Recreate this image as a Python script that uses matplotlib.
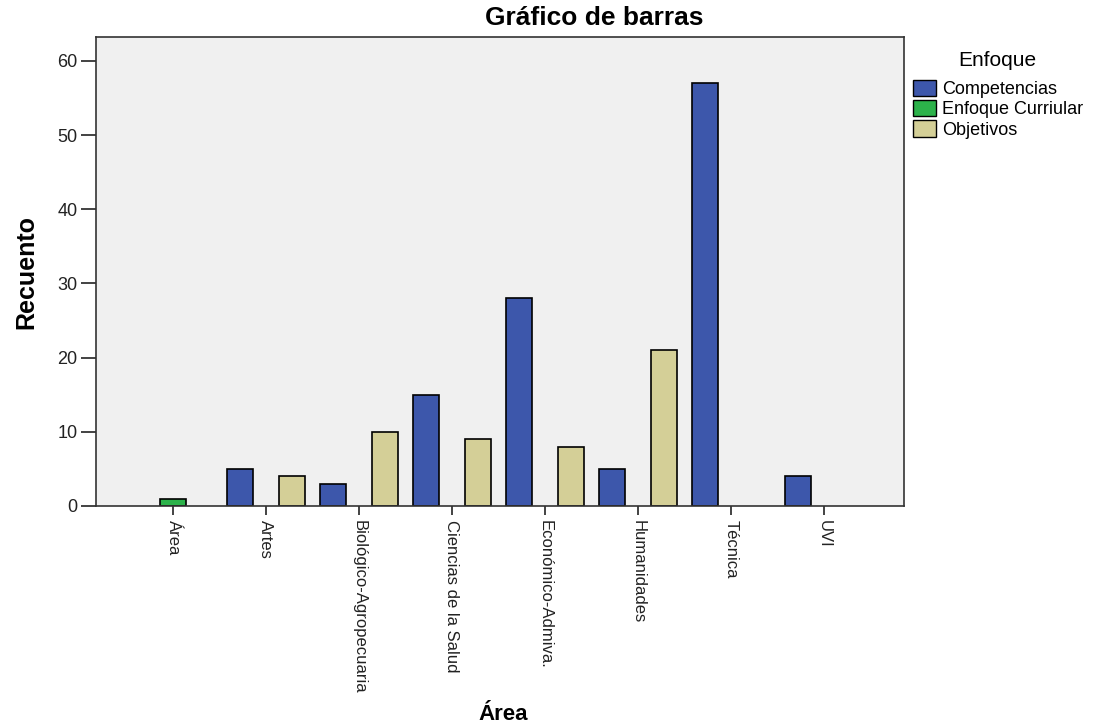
import numpy as np
import matplotlib.pyplot as plt
from matplotlib.patches import Patch

plt.rcParams['font.family'] = ['Liberation Sans', 'DejaVu Sans']

areas = ['Área', 'Artes', 'Biológico-Agropecuaria', 'Ciencias de la Salud',
         'Económico-Admiva.', 'Humanidades', 'Técnica', 'UVI']
competencias = [0, 5, 3, 15, 28, 5, 57, 4]
enfoque_curr = [1, 0, 0, 0, 0, 0, 0, 0]
objetivos = [0, 4, 10, 9, 8, 21, 0, 0]

series = ['Competencias', 'Enfoque Curriular', 'Objetivos']
colors = ['#3D57AB', '#2CB24A', '#D4CF97']
values = [competencias, enfoque_curr, objetivos]

fig = plt.figure(figsize=(11.03, 7.28), dpi=100)
ax = fig.add_axes([0.0868, 0.305, 0.7328, 0.644])
ax.set_facecolor('#F0F0F0')

x = np.arange(len(areas))
w = 0.28
offsets = [-0.275, 0, 0.275]
for vals, off, c in zip(values, offsets, colors):
    v = np.array(vals, dtype=float)
    mask = v > 0
    ax.bar(x[mask] + off, v[mask], width=w, color=c, edgecolor='black', linewidth=1.2)

ax.set_xlim(-0.83, 7.86)
ax.set_ylim(0, 63.2)
ax.set_yticks(range(0, 61, 10))
ax.set_xticks(x)
ax.set_xticklabels(areas, rotation=270, fontsize=12)
ax.tick_params(axis='y', labelsize=13, length=11, width=1.2, pad=2, colors='#222222')
ax.tick_params(axis='x', length=6.5, width=1.2, colors='#222222')
for s in ax.spines.values():
    s.set_color('#333333')
    s.set_linewidth(1.2)

ax.set_ylabel('Recuento', fontsize=18, fontweight='bold', labelpad=14)
fig.text(0.456, 0.019, 'Área', ha='center', va='center',
         fontsize=16, fontweight='bold')
fig.text(0.539, 0.975, 'Gráfico de barras', ha='center', va='center',
         fontsize=19, fontweight='bold')

handles = [Patch(facecolor=c, edgecolor='black', label=s) for s, c in zip(series, colors)]
leg = fig.legend(handles=handles, title='Enfoque', loc='upper left',
                 bbox_to_anchor=(0.821, 0.94), frameon=False, fontsize=13,
                 title_fontsize=15, handlelength=1.3, handleheight=1.0,
                 handletextpad=0.3, labelspacing=0.12, borderaxespad=0)
leg._legend_box.sep = 7

fig.savefig('out.png', dpi=100)
